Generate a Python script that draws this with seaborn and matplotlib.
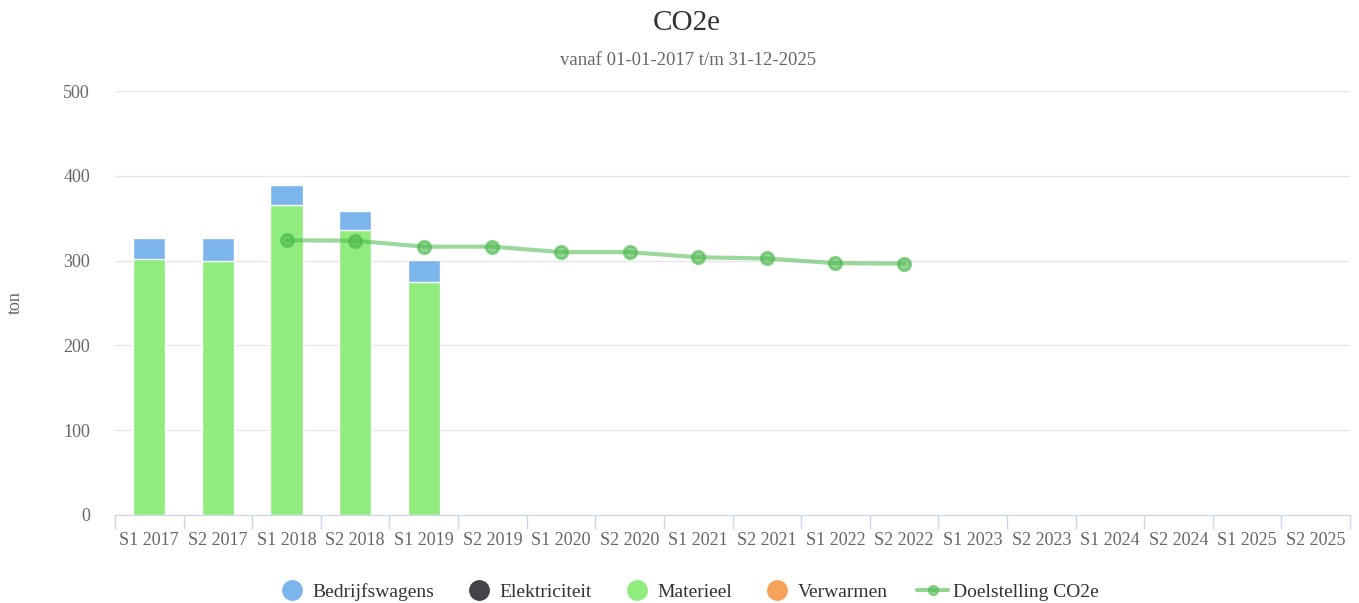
import matplotlib
matplotlib.use("Agg")
import matplotlib.pyplot as plt
from matplotlib.lines import Line2D
import seaborn as sns
import pandas as pd

# DATA
periods = ["S1 2017", "S2 2017", "S1 2018", "S2 2018", "S1 2019", "S2 2019",
           "S1 2020", "S2 2020", "S1 2021", "S2 2021", "S1 2022", "S2 2022",
           "S1 2023", "S2 2023", "S1 2024", "S2 2024", "S1 2025", "S2 2025"]
bar_periods = ["S1 2017", "S2 2017", "S1 2018", "S2 2018", "S1 2019"]
materieel = [302, 300, 366, 336, 275]
bedrijfswagens = [25, 27, 23, 23, 26]
elektriciteit = [0, 0, 0, 0, 0]
verwarmen = [0, 0, 0, 0, 0]

target_periods = ["S1 2018", "S2 2018", "S1 2019", "S2 2019", "S1 2020", "S2 2020",
                  "S1 2021", "S2 2021", "S1 2022", "S2 2022"]
target = [324, 323.5, 316.5, 316.5, 310, 310, 304, 302.5, 297, 296.5]

colors = {"Bedrijfswagens": "#7cb5ec", "Elektriciteit": "#434348",
          "Materieel": "#90ed7d", "Verwarmen": "#f7a35c"}
target_color = "#4cb84c"

sns.set_style("white")
plt.rcParams["font.family"] = ["Liberation Serif", "DejaVu Serif"]

bars = pd.DataFrame({"period": bar_periods, "materieel": materieel,
                     "bedrijfswagens": bedrijfswagens})
bars["total"] = bars["materieel"] + bars["bedrijfswagens"]
line = pd.DataFrame({"period": target_periods, "target": target})

fig = plt.figure(figsize=(13.59, 6.03), dpi=100)
ax = fig.add_axes([0.0846, 0.146, 0.9088, 0.703])

# stacked bars: total behind, materieel in front
sns.barplot(data=bars, x="period", y="total", order=periods, color=colors["Bedrijfswagens"],
            width=0.47, edgecolor="white", linewidth=1, saturation=1, ax=ax)
sns.barplot(data=bars, x="period", y="materieel", order=periods, color=colors["Materieel"],
            width=0.47, edgecolor="white", linewidth=1, saturation=1, ax=ax)

# target line
sns.pointplot(data=line, x="period", y="target", order=periods, color=target_color,
              markers="", linewidth=3, alpha=0.55, errorbar=None, ax=ax)
sns.pointplot(data=line, x="period", y="target", order=periods, color=target_color,
              markers="o", markersize=9, linestyle="none", alpha=0.6, errorbar=None, ax=ax)

ax.set_xlim(-0.5, len(periods) - 0.5)
ax.set_ylim(0, 500)
ax.set_yticks([0, 100, 200, 300, 400, 500])
ax.yaxis.grid(True, color="#e6e6e6", linewidth=1)
ax.set_axisbelow(True)
for s in ["top", "right", "left"]:
    ax.spines[s].set_visible(False)
ax.spines["bottom"].set_color("#ccd6eb")
ax.set_xticks(range(len(periods)))
ax.set_xticklabels(periods)
ax.set_xticks([i - 0.5 for i in range(len(periods) + 1)], minor=True)
ax.tick_params(axis="x", which="major", bottom=False, length=0, pad=12, labelsize=13, labelcolor="#666666")
ax.tick_params(axis="x", which="minor", bottom=True, length=10, color="#ccd6eb", width=1)
ax.tick_params(axis="y", length=0, pad=18, labelsize=13, labelcolor="#666666")
ax.set_xlabel("")
ax.set_ylabel("ton", fontsize=13, color="#666666")
ax.yaxis.set_label_coords(-0.0737, 0.5)

fig.text(0.5055, 0.962, "CO2e", ha="center", va="center", fontsize=21, color="#333333")
fig.text(0.506, 0.9, "vanaf 01-01-2017 t/m 31-12-2025", ha="center", va="center",
         fontsize=13.5, color="#666666")

handles = [Line2D([], [], marker="o", linestyle="none", markersize=14,
                  markerfacecolor=colors[k], markeredgecolor=colors[k]) for k in colors]
handles.append(Line2D([], [], color=target_color, alpha=0.6, linewidth=3, marker="o", markersize=7))
fig.legend(handles, list(colors) + ["Doelstelling CO2e"], loc="center", bbox_to_anchor=(0.506, 0.018),
           ncol=5, frameon=False, fontsize=14, handletextpad=0.25, columnspacing=1.52,
           labelcolor="#333333", handlelength=1.6)

fig.savefig("out.png", dpi=100)
